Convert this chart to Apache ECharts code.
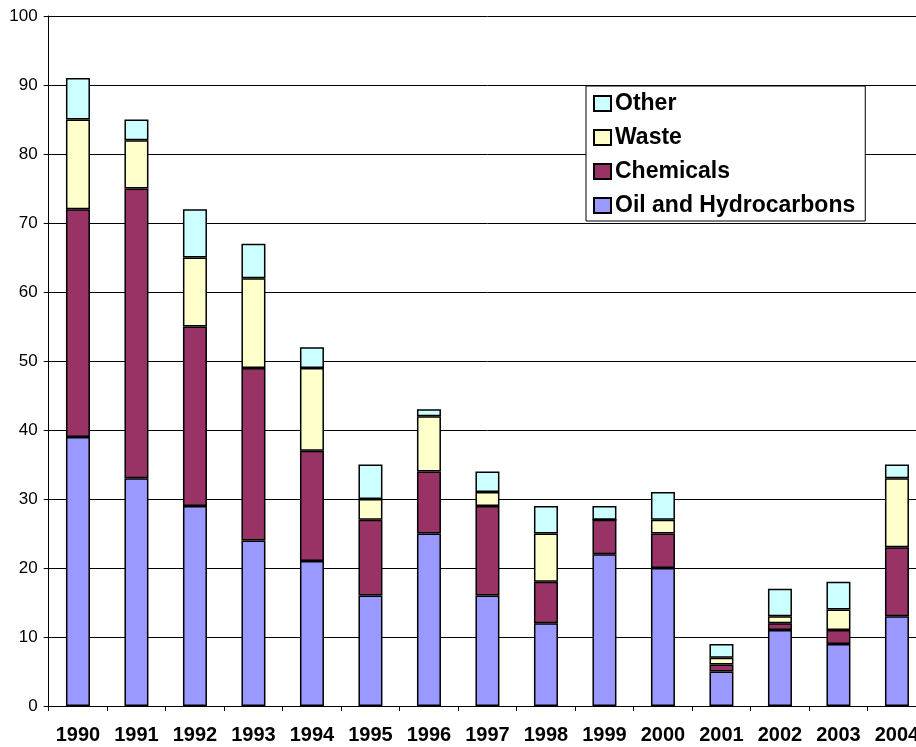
<!DOCTYPE html>
<html>
<head>
<meta charset="utf-8">
<script src="https://cdn.jsdelivr.net/npm/echarts@6/dist/echarts.min.js"></script>
<style>
  html, body { margin: 0; padding: 0; background: #fff; overflow: hidden; }
  /* a bit wider than the window so the last year runs off the right edge */
  #chart { width: 930px; height: 747px; }
</style>
</head>
<body>
<div id="chart"></div>
<script>
// Yearly counts by sector, stacked from the bottom up
const years = ['1990','1991','1992','1993','1994','1995','1996','1997','1998','1999','2000','2001','2002','2003','2004'];
const oilAndHydrocarbons = [39, 33, 29, 24, 21, 16, 25, 16, 12, 22, 20, 5, 11, 9, 13];
const chemicals          = [33, 42, 26, 25, 16, 11,  9, 13,  6,  5,  5, 1,  1, 2, 10];
const waste              = [13,  7, 10, 13, 12,  3,  8,  2,  7,  0,  2, 1,  1, 3, 10];
const other              = [ 6,  3,  7,  5,  3,  5,  1,  3,  4,  2,  4, 2,  4, 4,  2];
const yTicks = { min: 0, max: 100, interval: 10 };

const font = 'Liberation Sans, Arial, sans-serif';
const border = { borderColor: '#000', borderWidth: 1.5 };

function bar(name, data, color) {
  return {
    name: name,
    type: 'bar',
    stack: 'total',
    barWidth: 24,
    data: data,
    itemStyle: Object.assign({ color: color }, border)
  };
}

const chart = echarts.init(document.getElementById('chart'), null, { renderer: 'canvas' });
chart.setOption({
  animation: false,
  backgroundColor: '#fff',
  grid: { left: 48.7, top: 16, width: 877.5, height: 690, containLabel: false, outerBoundsMode: 'none' },
  legend: {
    orient: 'vertical',
    left: 586,
    top: 86,
    data: ['Other', 'Waste', 'Chemicals', 'Oil and Hydrocarbons'],
    itemWidth: 17,
    itemHeight: 15,
    itemGap: 11,
    padding: [6, 10, 4, 7],
    icon: 'rect',
    backgroundColor: '#fff',
    borderColor: '#000',
    borderWidth: 1,
    borderRadius: 0,
    textStyle: { fontFamily: font, fontSize: 23, fontWeight: 'bold', color: '#000', padding: [0, 0, 0, -1] }
  },
  xAxis: {
    type: 'category',
    data: years,
    boundaryGap: true,
    axisLine: { lineStyle: { color: '#000', width: 1 } },
    axisTick: { show: true, length: 5, lineStyle: { color: '#000' } },
    axisLabel: { interval: 0, margin: 19, fontFamily: font, fontSize: 20, fontWeight: 'bold', color: '#000' },
    splitLine: { show: false }
  },
  yAxis: {
    type: 'value',
    min: yTicks.min,
    max: yTicks.max,
    interval: yTicks.interval,
    axisLine: { show: true, lineStyle: { color: '#000', width: 1 } },
    axisTick: { show: true, length: 5, lineStyle: { color: '#000' } },
    axisLabel: { margin: 11, fontFamily: font, fontSize: 17, color: '#000' },
    splitLine: { show: true, lineStyle: { color: '#000', width: 1 } }
  },
  series: [
    bar('Oil and Hydrocarbons', oilAndHydrocarbons, '#9999FF'),
    bar('Chemicals', chemicals, '#993366'),
    bar('Waste', waste, '#FFFFCC'),
    bar('Other', other, '#CCFFFF')
  ]
});
</script>
</body>
</html>
